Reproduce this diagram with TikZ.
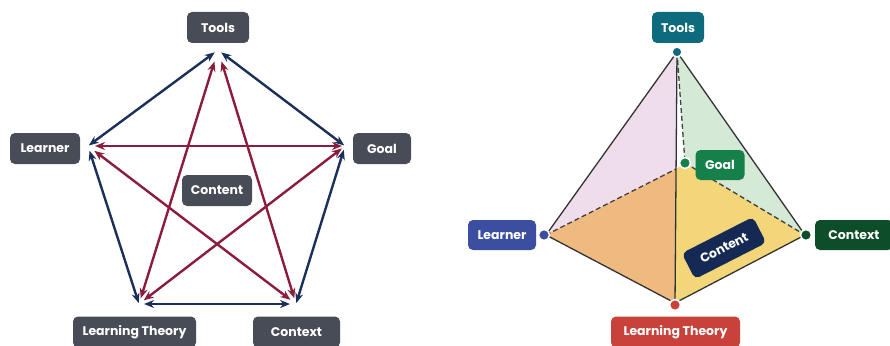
\documentclass[tikz,border=0pt]{standalone}
\usepackage{fontspec}
\setmainfont{Poppins}
\usetikzlibrary{arrows.meta}
\definecolor{boxgray}{HTML}{474C57}
\definecolor{navyline}{HTML}{1B2F5A}
\definecolor{redline}{HTML}{8C1C3C}
\definecolor{tealc}{HTML}{0E6B7D}
\definecolor{goalc}{HTML}{15804A}
\definecolor{learnc}{HTML}{3B4EA0}
\definecolor{contextc}{HTML}{0D4D2A}
\definecolor{theoryc}{HTML}{C8413A}
\definecolor{contentc}{HTML}{142A55}
\definecolor{pinkf}{HTML}{F0DDEC}
\definecolor{greenf}{HTML}{D4E9D6}
\definecolor{orangef}{HTML}{EFBA80}
\definecolor{yellowf}{HTML}{F3D57A}
\tikzset{
  label box/.style={rounded corners=5pt, text=white, font=\bfseries\fontsize{12.5}{13}\selectfont,
    minimum height=31pt, inner sep=0pt, align=center},
  graybox/.style={label box, fill=boxgray},
  both tips/.style={{Stealth[length=10pt,width=8pt]}-{Stealth[length=10pt,width=8pt]}},
  edge blue/.style={both tips, draw=navyline, line width=2.4pt},
  edge red/.style={both tips, draw=redline, line width=2.4pt},
  dot/.style={circle, draw=white, line width=1.5pt, minimum size=11pt, inner sep=0pt},
  solidedge/.style={draw=black!80, line width=1.3pt},
  dashedge/.style={draw=black!75, line width=1.3pt, dash pattern=on 5pt off 3pt},
}
\begin{document}
\begin{tikzpicture}[x=1pt,y=-1pt]
\useasboundingbox (0,0) rectangle (890,345);

% ---------- pentagon of relations ----------
\coordinate (vT)  at (218,50);
\coordinate (vL)  at (88,146);
\coordinate (vG)  at (345,146);
\coordinate (vLT) at (139,304);
\coordinate (vC)  at (296,304);

\draw[edge blue, shorten <=4pt, shorten >=1pt] (vT) -- (vL);
\draw[edge blue, shorten <=4pt, shorten >=1pt] (vT) -- (vG);
\draw[edge blue, shorten <=5pt, shorten >=1pt] (vL) -- (vLT);
\draw[edge blue, shorten <=4pt, shorten >=1pt] (vG) -- (vC);
\draw[edge blue, shorten <=5pt, shorten >=6pt] (vLT) -- (vC);

\draw[edge red, shorten <=7pt, shorten >=3pt] (vL) -- (vG);
\draw[edge red, shorten <=12pt, shorten >=6pt] (vT) -- (vLT);
\draw[edge red, shorten <=12pt, shorten >=6pt] (vT) -- (vC);
\draw[edge red, shorten <=8pt, shorten >=7pt] (vL) -- (vC);
\draw[edge red, shorten <=4pt, shorten >=6pt] (vG) -- (vLT);

\node[graybox, minimum width=62pt]  (tools)   at (218,27.5) {Tools};
\node[graybox, minimum width=70pt]  (learner) at (45,148.5) {Learner};
\node[graybox, minimum width=58pt]  (goal)    at (382,148.5) {Goal};
\node[graybox, minimum width=70pt]  (content) at (217,190.5) {Content};
\node[graybox, minimum width=123pt] (theory)  at (134.5,332) {Learning Theory};
\node[graybox, minimum width=87pt]  (context) at (296.5,332) {Context};

% ---------- pyramid ----------
\coordinate (pA) at (677,52);
\coordinate (pL) at (546,235);
\coordinate (pC) at (805,235);
\coordinate (pF) at (675,303);
\coordinate (pB) at (676,169);
\coordinate (pG) at (685,163);

\fill[pinkf]   (pA) -- (pL) -- (pB) -- cycle;
\fill[greenf]  (pA) -- (pG) -- (pC) -- cycle;
\fill[orangef] (pL) -- (pB) -- (pF) -- cycle;
\fill[yellowf] (pB) -- (pG) -- (pC) -- (pF) -- cycle;

\draw[dashedge] (pA) -- (pG);
\draw[dashedge] (pL) -- (pB);
\draw[dashedge] (pG) -- (pC);
\draw[solidedge] (pA) -- (pL) -- (pF) -- (pC) -- cycle;
\draw[solidedge] (pA) -- (pF);

\node[dot, fill=tealc,    minimum size=10pt] (dA) at (pA) {};
\node[dot, fill=goalc]    (dG) at (pG) {};
\node[dot, fill=learnc]   (dL) at (544,235) {};
\node[dot, fill=contextc] (dC) at (806,235) {};
\node[dot, fill=theoryc]  (dF) at (675,305) {};

\node[label box, fill=tealc,    minimum width=52pt]  (rtools)   at (678,27.5) {Tools};
\node[label box, fill=goalc,    minimum width=49pt, minimum height=30pt] (rgoal) at (720,165) {Goal};
\node[label box, fill=learnc,   minimum width=68pt, minimum height=30pt] (rlearner) at (502,235) {Learner};
\node[label box, fill=contextc, minimum width=78pt, minimum height=30pt] (rcontext) at (854,235) {Context};
\node[label box, fill=theoryc,  minimum width=129pt] (rtheory)  at (675.5,332) {Learning Theory};
\node[label box, fill=contentc, minimum width=80pt, minimum height=29pt, rotate=27] (rcontent) at (724,248) {Content};
\end{tikzpicture}
\end{document}
